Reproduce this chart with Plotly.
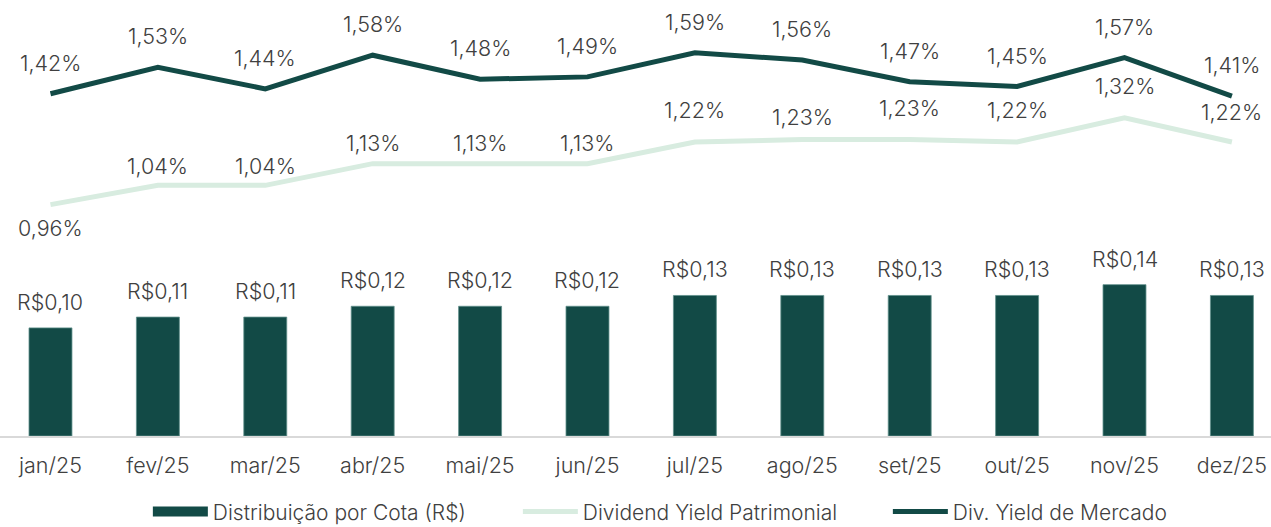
import plotly.graph_objects as go

meses = ["jan/25", "fev/25", "mar/25", "abr/25", "mai/25", "jun/25",
         "jul/25", "ago/25", "set/25", "out/25", "nov/25", "dez/25"]
distribuicao = [0.10, 0.11, 0.11, 0.12, 0.12, 0.12, 0.13, 0.13, 0.13, 0.13, 0.14, 0.13]
dy_patrimonial = [0.96, 1.04, 1.04, 1.13, 1.13, 1.13, 1.22, 1.23, 1.23, 1.22, 1.32, 1.22]
dy_mercado = [1.42, 1.53, 1.44, 1.58, 1.48, 1.49, 1.59, 1.56, 1.47, 1.45, 1.57, 1.41]

DARK = "#124a46"
LIGHT = "#d8ece0"
TXT = "#404040"
FONT = "Inter"

def br(v, nd=2):
    return f"{v:.{nd}f}".replace(".", ",")

fig = go.Figure()
fig.add_trace(go.Bar(x=meses, y=distribuicao, name="Distribuição por Cota (R$)",
                     marker=dict(color=DARK, line=dict(color="#5f8f8a", width=0.8)),
                     width=0.40, yaxis="y", showlegend=False, legendgroup="d"))
# legend-only entry drawn as a wide block, as in the original legend
fig.add_trace(go.Scatter(x=[None], y=[None], name="Distribuição por Cota (R$)",
                         mode="lines", line=dict(color=DARK, width=13),
                         legendgroup="d", yaxis="y"))
fig.add_trace(go.Scatter(x=meses, y=dy_patrimonial, name="Dividend Yield Patrimonial",
                         mode="lines", line=dict(color=LIGHT, width=5), yaxis="y2"))
fig.add_trace(go.Scatter(x=meses, y=dy_mercado, name="Div. Yield de Mercado",
                         mode="lines", line=dict(color=DARK, width=5), yaxis="y2"))

lbl_font = dict(size=21.5, color=TXT, family=FONT, weight=300)
ann = []
for m, v in zip(meses, distribuicao):
    ann.append(dict(x=m, y=v, yref="y", text="R$" + br(v), showarrow=False,
                    yshift=26, font=lbl_font))
pat_shift = [-23, 19, 19, 21, 21, 21, 32, 23, 32, 32, 32, 30]
for m, v, s in zip(meses, dy_patrimonial, pat_shift):
    ann.append(dict(x=m, y=v, yref="y2", text=br(v) + "%", showarrow=False,
                    yshift=s, font=lbl_font))
for m, v in zip(meses, dy_mercado):
    ann.append(dict(x=m, y=v, yref="y2", text=br(v) + "%", showarrow=False,
                    yshift=31, font=lbl_font))

fig.update_layout(
    width=1271, height=527,
    margin=dict(l=0, r=0, t=0, b=91, autoexpand=False),
    plot_bgcolor="white", paper_bgcolor="white",
    font=dict(family=FONT, color=TXT, size=20),
    xaxis=dict(range=[-0.470, 11.364], showgrid=False, showline=True,
               linecolor="#d9d9d9", linewidth=2, ticks="", ticklabelstandoff=9,
               tickfont=lbl_font),
    yaxis=dict(range=[0, 0.4033], visible=False, showgrid=False),
    yaxis2=dict(range=[0, 1.809], visible=False, showgrid=False,
                overlaying="y", side="right"),
    legend=dict(orientation="h", x=0.553, xanchor="center",
                yref="paper", y=-0.174, yanchor="middle",
                font=dict(size=21, color=TXT, family=FONT, weight=300), itemwidth=55,
                entrywidth=300, traceorder="normal"),
    annotations=ann,
    showlegend=True,
)

fig.write_html("out.html", config={"displayModeBar": False},
               post_script="document.body.style.margin='0';document.body.style.overflow='hidden';")
